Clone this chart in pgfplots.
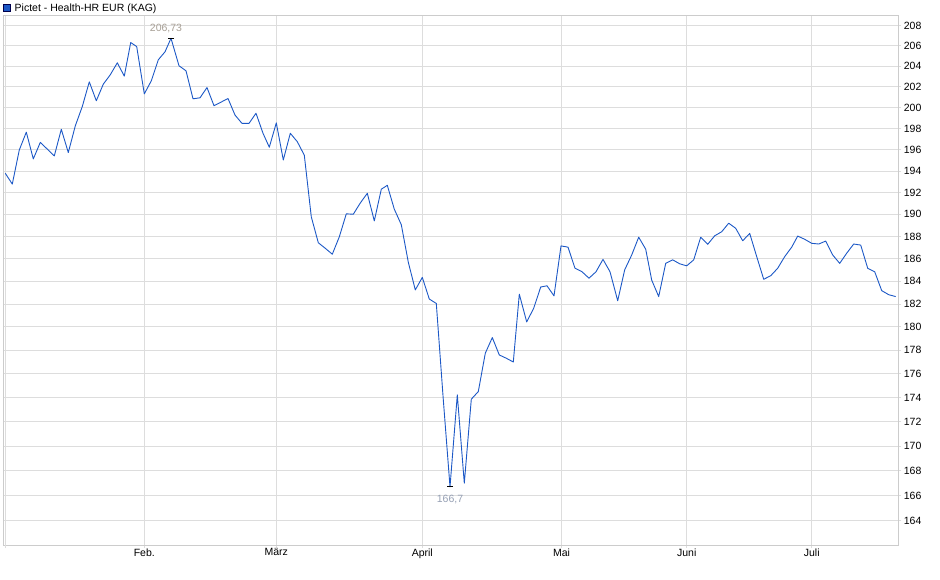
\documentclass[border=0pt]{standalone}
\usepackage{pgfplots}
\pgfplotsset{compat=1.18}
\usepackage{fontspec}
\setmainfont{Liberation Sans}
\definecolor{linecol}{RGB}{28,88,198}
\definecolor{gridcol}{RGB}{221,221,221}
\definecolor{framecol}{RGB}{204,204,204}
\definecolor{maxcol}{RGB}{168,160,150}
\definecolor{mincol}{RGB}{150,160,180}

% Pictet - Health-HR EUR (KAG), x = position in the original chart (px), y = price
\pgfplotstableread{
x y
5.3 193.78
12.3 192.78
19.3 195.96
26.3 197.63
33.3 195.11
40.3 196.68
47.3 196.05
54.3 195.39
61.3 197.91
68.3 195.74
75.3 198.23
82.3 200.07
89.3 202.45
96.3 200.62
103.3 202.23
110.3 203.14
117.3 204.31
124.3 203.01
130.7 206.31
136.7 205.91
144.3 201.29
151.3 202.55
158.3 204.61
165.0 205.39
171.0 206.73
179.0 204.02
186.0 203.53
193.0 200.81
200.0 200.91
207.0 201.90
214.0 200.14
221.0 200.49
228.0 200.84
235.0 199.27
242.0 198.48
249.0 198.48
256.0 199.44
263.0 197.53
269.3 196.21
276.3 198.54
283.3 195.02
290.3 197.53
297.3 196.76
304.3 195.49
311.3 189.78
318.3 187.43
325.3 186.93
332.3 186.39
339.3 187.97
346.3 190.06
353.3 190.00
360.3 191.03
367.3 191.93
374.3 189.39
381.3 192.30
387.3 192.67
394.3 190.46
401.3 189.06
408.3 185.68
415.3 183.23
422.3 184.33
429.3 182.41
436.3 182.04
443.3 173.80
450.0 166.70
457.3 174.22
464.3 166.99
471.3 173.86
478.3 174.50
485.3 177.74
492.3 179.08
499.3 177.60
506.3 177.32
513.3 176.98
519.3 182.85
526.7 180.43
533.7 181.62
540.7 183.49
547.0 183.58
554.0 182.70
561.0 187.13
568.0 187.02
575.0 185.14
582.0 184.84
589.0 184.26
596.0 184.84
603.0 185.94
610.0 184.84
617.7 182.28
624.7 184.99
631.7 186.33
638.7 187.92
645.7 186.84
651.7 184.10
658.7 182.64
665.7 185.59
672.7 185.88
679.7 185.53
686.7 185.35
693.7 185.88
700.7 187.92
707.7 187.28
714.7 188.06
721.7 188.40
728.7 189.18
735.7 188.73
742.7 187.61
749.7 188.28
756.7 186.18
763.7 184.17
770.7 184.46
777.7 185.14
784.7 186.18
791.7 187.02
797.7 188.03
804.7 187.74
811.7 187.38
818.7 187.30
825.7 187.58
832.7 186.33
839.7 185.59
846.7 186.48
853.7 187.30
860.7 187.22
867.7 185.14
874.7 184.84
881.7 183.16
888.7 182.79
895.7 182.64
}\fund

\begin{document}
\begin{tikzpicture}[x=1pt,y=1pt]
\path[use as bounding box] (0,0) rectangle (940,579);
\begin{axis}[
  at={(3pt,33.7pt)}, anchor=south west,
  scale only axis, width=895.3pt, height=529.6pt,
  xmin=3, xmax=898.3,
  ymode=log, ymin=162.1, ymax=209.0,
  axis line style={draw=framecol, line width=0.8pt},
  grid=major, major grid style={draw=gridcol, line width=0.8pt},
  xtick={144.3,276.3,422.3,561.5,686.7,811.7},
  xticklabels={Feb.,März,April,Mai,Juni,Juli},
  extra x ticks={5.3}, extra x tick labels={},
  extra x tick style={grid=major},
  ytick={164,166,168,170,172,174,176,178,180,182,184,186,188,190,192,194,196,198,200,202,204,206,208},
  yticklabels={164,166,168,170,172,174,176,178,180,182,184,186,188,190,192,194,196,198,200,202,204,206,208},
  minor y tick num=0,
  xtick pos=bottom, ytick pos=right, yticklabel pos=right,
  tick align=outside, major tick length=3pt,
  tick style={draw=gridcol, line width=0.8pt},
  ticklabel style={font=\fontsize{10.5}{12}\selectfont, text=black},
  xticklabel style={yshift=3pt},
  yticklabel style={xshift=-1pt},
  /pgf/number format/assume math mode=true,
  clip=false,
]
\addplot[linecol, line width=0.9pt, line join=round] table[x=x,y=y] {\fund};
\addplot[black, only marks, mark=-, mark size=3pt, mark options={line width=0.8pt}]
  coordinates {(171,206.73) (450,166.7)};
\node[text=maxcol, font=\fontsize{10.5}{12}\selectfont] at (axis cs:166,207.7) {206,73};
\node[text=mincol, font=\fontsize{10.5}{12}\selectfont] at (axis cs:450,165.7) {166,7};
\end{axis}
\filldraw[fill=linecol, draw=black!70!blue, line width=0.6pt] (3.5,568) rectangle (10.5,575);
\node[anchor=base west, inner sep=0pt, font=\fontsize{10.5}{12}\selectfont] at (14.5,567.5) {Pictet - Health-HR EUR (KAG)};
\end{tikzpicture}
\end{document}
